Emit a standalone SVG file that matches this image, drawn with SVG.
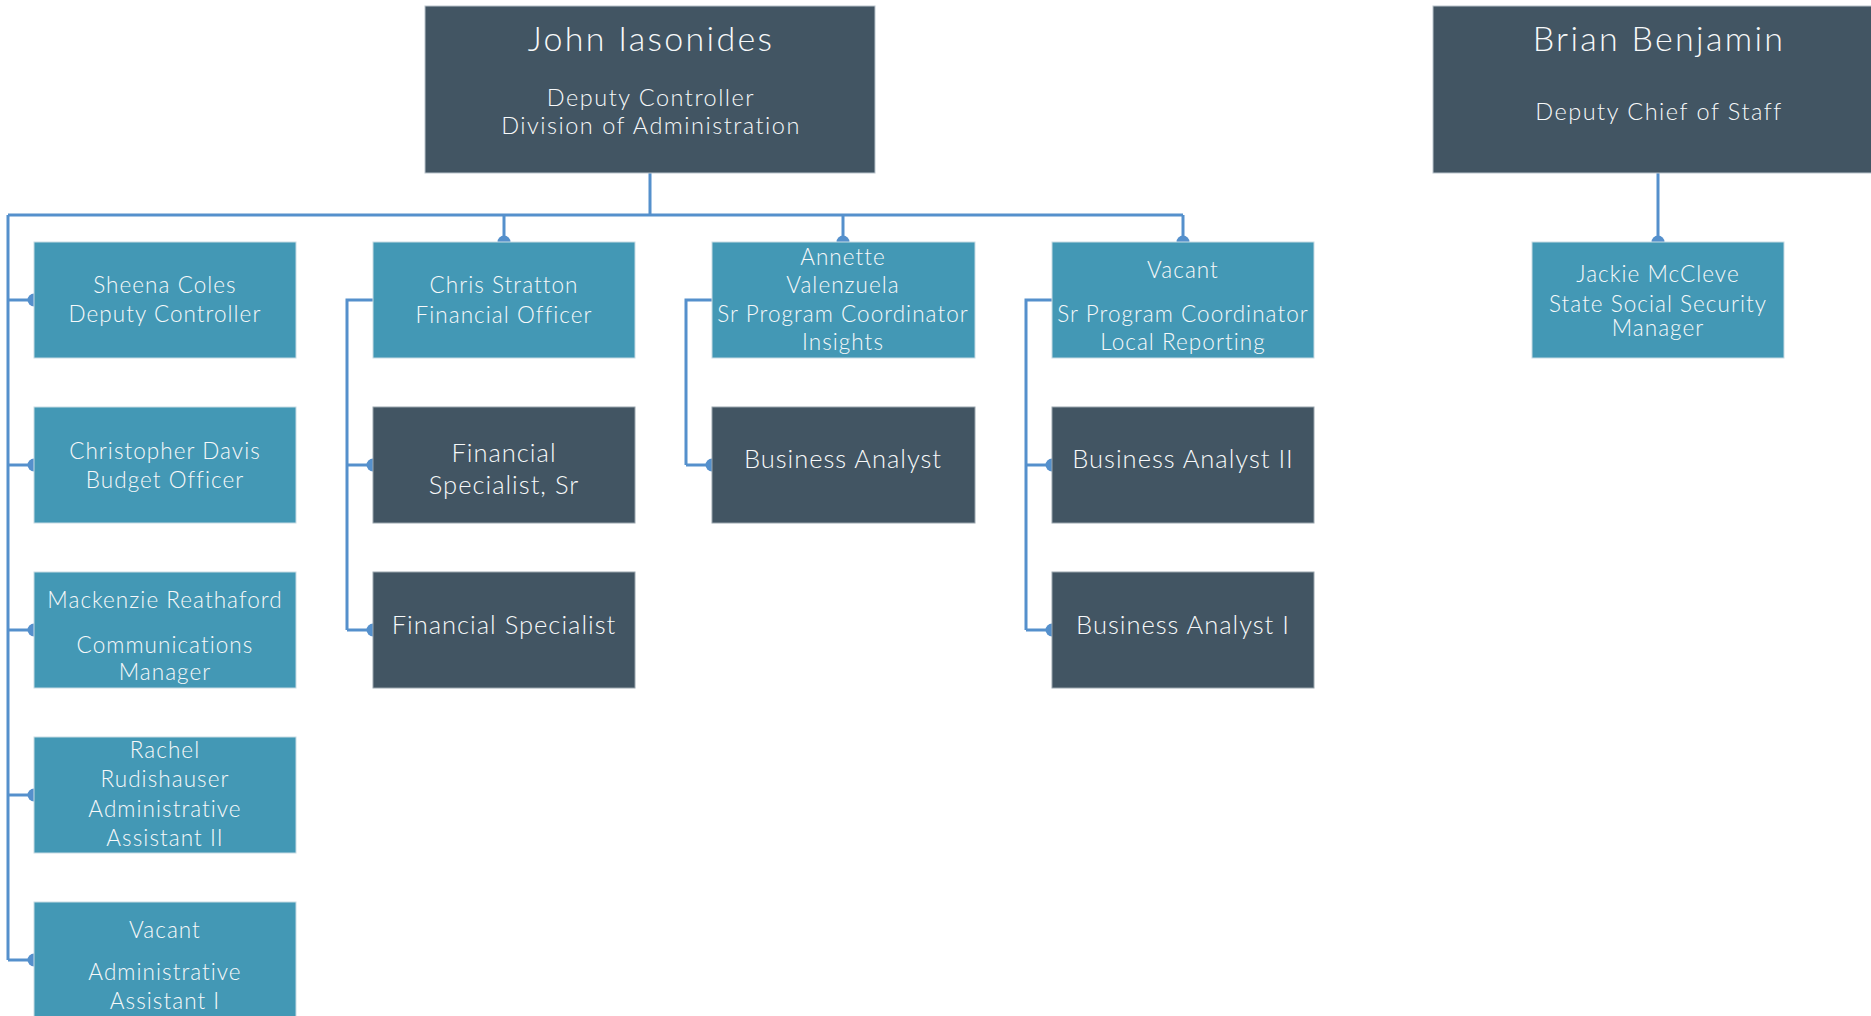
<svg xmlns="http://www.w3.org/2000/svg" width="1871" height="1016" viewBox="0 0 1871 1016">
  <style>
    .head { fill: #425563; stroke: #b9c4cc; stroke-width: 1; }
    .role { fill: #4398b5; stroke: #c7dbe4; stroke-width: 1; }
    .pos  { fill: #425563; stroke: #9aa6ae; stroke-width: 1; }
    text { font-family: Lato, "Open Sans", "Liberation Sans", sans-serif; font-weight: 300; fill: #f7f9fa; text-anchor: middle; }
    .name { font-size: 34px; letter-spacing: 2.3px; }
    .sub  { font-size: 23.5px; letter-spacing: 1.5px; }
    .t    { font-size: 22.5px; letter-spacing: 1.05px; }
    .big  { font-size: 25.5px; letter-spacing: 1px; }
    .link { fill: none; stroke: #5590cc; stroke-width: 3; marker-end: url(#dot); }
    .plain { fill: none; stroke: #5590cc; stroke-width: 3; }
  </style>
  <defs>
    <marker id="dot" viewBox="-7 -7 14 14" refX="0" refY="0" markerWidth="14" markerHeight="14" markerUnits="userSpaceOnUse" orient="auto">
      <path d="M0,-6.5 A6.5,6.5 0 0 0 0,6.5 Z" fill="#5590cc"/>
    </marker>
  </defs>

  <rect width="1871" height="1016" fill="#ffffff"/>

  <!-- connectors -->
  <g id="connectors">
    <path class="plain" d="M650,173 V215 M8,215 H1183 M8,215 V960"/>
    <path class="link" d="M504,215 V242"/>
    <path class="link" d="M843,215 V242"/>
    <path class="link" d="M1183,215 V242"/>
    <path class="link" d="M8,300 H34"/>
    <path class="link" d="M8,465 H34"/>
    <path class="link" d="M8,630 H34"/>
    <path class="link" d="M8,795 H34"/>
    <path class="link" d="M8,960 H34"/>
    <path class="plain" d="M373,300 H347 V630"/>
    <path class="link" d="M347,465 H373"/>
    <path class="link" d="M347,630 H373"/>
    <path class="plain" d="M712,300 H686 V465"/>
    <path class="link" d="M686,465 H712"/>
    <path class="plain" d="M1052,300 H1026 V630"/>
    <path class="link" d="M1026,465 H1052"/>
    <path class="link" d="M1026,630 H1052"/>
    <path class="link" d="M1658,173 V242"/>
  </g>

  <!-- heads -->
  <g id="john-iasonides">
    <rect class="head" x="425" y="6" width="450" height="167"/>
    <text class="name" x="651" y="51">John Iasonides</text>
    <text class="sub" x="651" y="106">Deputy Controller</text>
    <text class="sub" x="651" y="134">Division of Administration</text>
  </g>
  <g id="brian-benjamin">
    <rect class="head" x="1433" y="6" width="450" height="167"/>
    <text class="name" x="1659" y="51">Brian Benjamin</text>
    <text class="sub" x="1659" y="120">Deputy Chief of Staff</text>
  </g>

  <!-- first column -->
  <g id="sheena-coles">
    <rect class="role" x="34" y="242" width="262" height="116"/>
    <text class="t" x="165" y="293">Sheena Coles</text>
    <text class="t" x="165" y="322">Deputy Controller</text>
  </g>
  <g id="christopher-davis">
    <rect class="role" x="34" y="407" width="262" height="116"/>
    <text class="t" x="165" y="459">Christopher Davis</text>
    <text class="t" x="165" y="488">Budget Officer</text>
  </g>
  <g id="mackenzie-reathaford">
    <rect class="role" x="34" y="572" width="262" height="116"/>
    <text class="t" x="165" y="608">Mackenzie Reathaford</text>
    <text class="t" x="165" y="653">Communications</text>
    <text class="t" x="165" y="680">Manager</text>
  </g>
  <g id="rachel-rudishauser">
    <rect class="role" x="34" y="737" width="262" height="116"/>
    <text class="t" x="165" y="758">Rachel</text>
    <text class="t" x="165" y="787">Rudishauser</text>
    <text class="t" x="165" y="817">Administrative</text>
    <text class="t" x="165" y="846">Assistant II</text>
  </g>
  <g id="vacant-admin-assistant">
    <rect class="role" x="34" y="902" width="262" height="116"/>
    <text class="t" x="165" y="938">Vacant</text>
    <text class="t" x="165" y="980">Administrative</text>
    <text class="t" x="165" y="1009">Assistant I</text>
  </g>

  <!-- financial column -->
  <g id="chris-stratton">
    <rect class="role" x="373" y="242" width="262" height="116"/>
    <text class="t" x="504" y="293">Chris Stratton</text>
    <text class="t" x="504" y="323">Financial Officer</text>
  </g>
  <g id="financial-specialist-sr">
    <rect class="pos" x="373" y="407" width="262" height="116"/>
    <text class="big" x="504" y="462">Financial</text>
    <text class="big" x="504" y="494">Specialist, Sr</text>
  </g>
  <g id="financial-specialist">
    <rect class="pos" x="373" y="572" width="262" height="116"/>
    <text class="big" x="504" y="634">Financial Specialist</text>
  </g>

  <!-- insights column -->
  <g id="annette-valenzuela">
    <rect class="role" x="712" y="242" width="263" height="116"/>
    <text class="t" x="843" y="265">Annette</text>
    <text class="t" x="843" y="293">Valenzuela</text>
    <text class="t" x="843" y="322">Sr Program Coordinator</text>
    <text class="t" x="843" y="350">Insights</text>
  </g>
  <g id="business-analyst">
    <rect class="pos" x="712" y="407" width="263" height="116"/>
    <text class="big" x="843" y="468">Business Analyst</text>
  </g>

  <!-- local reporting column -->
  <g id="vacant-local-reporting">
    <rect class="role" x="1052" y="242" width="262" height="116"/>
    <text class="t" x="1183" y="278">Vacant</text>
    <text class="t" x="1183" y="322">Sr Program Coordinator</text>
    <text class="t" x="1183" y="350">Local Reporting</text>
  </g>
  <g id="business-analyst-ii">
    <rect class="pos" x="1052" y="407" width="262" height="116"/>
    <text class="big" x="1183" y="468">Business Analyst II</text>
  </g>
  <g id="business-analyst-i">
    <rect class="pos" x="1052" y="572" width="262" height="116"/>
    <text class="big" x="1183" y="634">Business Analyst I</text>
  </g>

  <!-- chief of staff branch -->
  <g id="jackie-mccleve">
    <rect class="role" x="1532" y="242" width="252" height="116"/>
    <text class="t" x="1658" y="282">Jackie McCleve</text>
    <text class="t" x="1658" y="312">State Social Security</text>
    <text class="t" x="1658" y="336">Manager</text>
  </g>
</svg>
